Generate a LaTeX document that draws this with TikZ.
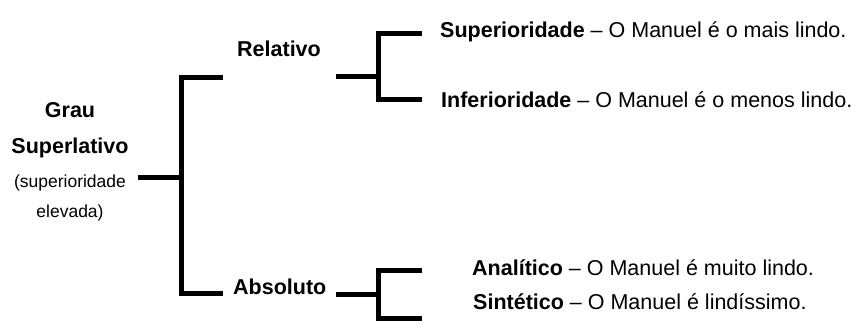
\documentclass[tikz,border=0pt]{standalone}
\usepackage{fontspec}
\setmainfont{Liberation Sans}
\begin{document}
\begin{tikzpicture}[x=1pt,y=-1pt,
  big/.style={inner sep=0pt,anchor=base west,font=\fontsize{21.5}{26}\selectfont},
  bigc/.style={inner sep=0pt,anchor=base,font=\fontsize{21.5}{26}\selectfont\bfseries},
  small/.style={inner sep=0pt,anchor=base,font=\fontsize{17.5}{21}\selectfont},
  br/.style={line width=5pt,line join=miter}]
\useasboundingbox (0,0) rectangle (851,325);
% left labels
\node[bigc] (g1) at (70,117) {Grau};
\node[bigc] (g2) at (70,153) {Superlativo};
\node[small] (g3) at (70,187) {(superioridade};
\node[small] (g4) at (70,217) {elevada)};
\node[big] (rel) at (237,56) {\textbf{Relativo}};
\node[big] (abs) at (233,294) {\textbf{Absoluto}};
\node[big] (sup) at (440,37) {\textbf{Superioridade} – O Manuel é o mais lindo.};
\node[big] (inf) at (441,107) {\textbf{Inferioridade} – O Manuel é o menos lindo.};
\node[big] (ana) at (472,275) {\textbf{Analítico} – O Manuel é muito lindo.};
\node[big] (sin) at (473,309) {\textbf{Sintético} – O Manuel é lindíssimo.};
% coordinates
\coordinate (s0) at (138,177);
\coordinate (s1) at (181,177);
\coordinate (lt) at (223,77);
\coordinate (lb) at (223,293);
\coordinate (r0) at (336,76);
\coordinate (r1) at (378,76);
\coordinate (rt) at (422,33);
\coordinate (rb) at (422,99);
\coordinate (a0) at (336,294);
\coordinate (a1) at (378,294);
\coordinate (at) at (422,270);
\coordinate (ab) at (422,318);
% brackets
\draw[br] (s0) -- (s1);
\draw[br] (lt) -- (s1 |- lt) -- (s1 |- lb) -- (lb);
\draw[br] (r0) -- (r1);
\draw[br] (rt) -- (r1 |- rt) -- (r1 |- rb) -- (rb);
\draw[br] (a0) -- (a1);
\draw[br] (at) -- (a1 |- at) -- (a1 |- ab) -- (ab);
\end{tikzpicture}
\end{document}
